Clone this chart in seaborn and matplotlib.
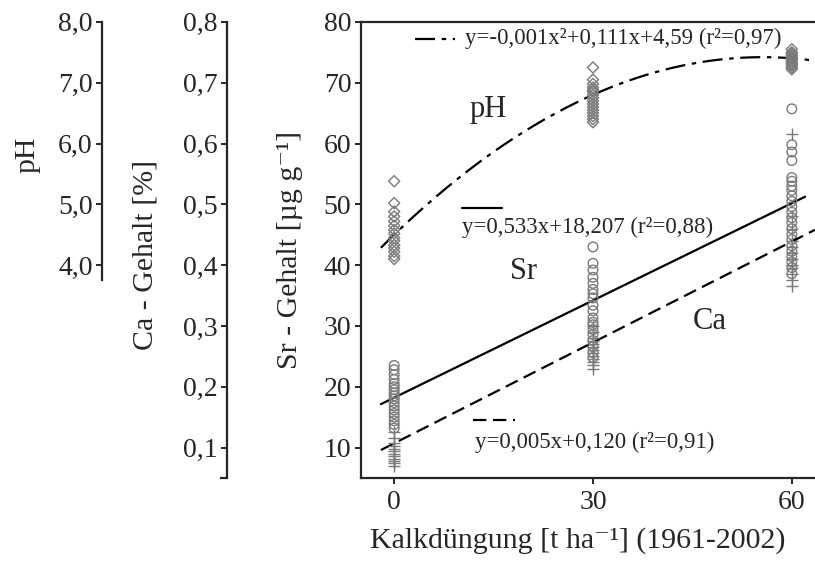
import numpy as np
import pandas as pd
import seaborn as sns
import matplotlib.pyplot as plt

# Kalkdüngung levels [t/ha]
lime = [0, 30, 60]

# pH per lime level
ph_0 = [5.38, 5.02, 4.88, 4.80, 4.72, 4.65, 4.58, 4.52, 4.45, 4.40, 4.33, 4.28, 4.22, 4.15, 4.10]
ph_30 = [7.25, 7.05, 6.98, 6.92, 6.88, 6.85, 6.80, 6.75, 6.70, 6.65, 6.60, 6.55, 6.50, 6.45, 6.40, 6.35]
ph_60 = [7.55, 7.50, 7.48, 7.45, 7.42, 7.40, 7.38, 7.35, 7.32, 7.30, 7.28, 7.25, 7.22]

# Sr content [µg/g]
sr_0 = [23.5, 22.8, 22.0, 21.2, 20.5, 20.0, 19.5, 19.0, 18.5, 18.0, 17.4, 16.8, 16.2,
        15.6, 15.0, 14.4, 13.8, 13.2]
sr_30 = [43.0, 40.3, 39.2, 38.0, 37.0, 36.0, 35.3, 34.6, 33.4, 32.5, 31.3, 30.6, 30.2,
         29.4, 28.6, 27.6, 26.6, 25.6, 24.8]
sr_60 = [65.7, 59.8, 58.6, 57.2, 54.4, 53.8, 53.0, 52.3, 51.4, 50.5, 49.6, 48.7, 47.8,
         47.0, 46.0, 45.0, 44.2, 43.2, 42.3, 41.4, 40.5, 39.6, 38.6]

# Ca content [%]
ca_0 = [0.125, 0.115, 0.108, 0.102, 0.098, 0.095, 0.090, 0.086, 0.082, 0.078, 0.074, 0.070]
ca_30 = [0.300, 0.290, 0.280, 0.275, 0.270, 0.265, 0.260, 0.255, 0.250, 0.245, 0.240, 0.235, 0.230]
ca_60 = [0.615, 0.480, 0.460, 0.440, 0.430, 0.420, 0.410, 0.400, 0.395, 0.385, 0.375, 0.365]

# fitted curves (as drawn)
ph_fit = [-0.000944, 0.105, 4.50]   # quadratic
sr_fit = [0.533, 18.207]            # linear
ca_fit = [0.00553, 0.107]           # linear
ph_eq = "y=-0,001x²+0,111x+4,59 (r²=0,97)"
sr_eq = "y=0,533x+18,207 (r²=0,88)"
ca_eq = "y=0,005x+0,120 (r²=0,91)"

# axis ticks
sr_ticks = [10, 20, 30, 40, 50, 60, 70, 80]
ca_ticks = [0.1, 0.2, 0.3, 0.4, 0.5, 0.6, 0.7, 0.8]
ca_labels = ["0,1", "0,2", "0,3", "0,4", "0,5", "0,6", "0,7", "0,8"]
ph_ticks = [4, 5, 6, 7, 8]
ph_labels = ["4,0", "5,0", "6,0", "7,0", "8,0"]


def long(groups, name):
    rows = []
    for x, vals in zip(lime, groups):
        rows += [(x, v) for v in vals]
    return pd.DataFrame(rows, columns=["Kalk", name])


df_ph = long([ph_0, ph_30, ph_60], "pH")
df_sr = long([sr_0, sr_30, sr_60], "Sr")
df_ca = long([ca_0, ca_30, ca_60], "Ca")

sns.set_style("ticks")
plt.rcParams["font.family"] = ["Liberation Serif", "DejaVu Serif"]
plt.rcParams["axes.linewidth"] = 1.6
plt.rcParams["xtick.major.width"] = 1.4
plt.rcParams["ytick.major.width"] = 1.4
plt.rcParams["xtick.major.size"] = 4
plt.rcParams["ytick.major.size"] = 4

fig = plt.figure(figsize=(8.15, 5.61), dpi=100)
ax = fig.add_axes([0.443, 0.148, 0.557, 0.813])
ax_ca = ax.twinx()
ax_ph = ax.twinx()

grey = "#7a7a7a"
sns.scatterplot(data=df_sr, x="Kalk", y="Sr", ax=ax, marker="o", s=48,
                facecolors="none", edgecolor=grey, linewidth=1.0, zorder=3)
sns.scatterplot(data=df_ca, x="Kalk", y="Ca", ax=ax_ca, marker="+", s=75,
                color=grey, linewidth=1.0, zorder=3)
sns.scatterplot(data=df_ph, x="Kalk", y="pH", ax=ax_ph, marker="D", s=32,
                facecolors="none", edgecolor=grey, linewidth=1.0, zorder=3)

xs = np.linspace(-2, 63.5, 200)
sns.lineplot(x=xs, y=np.polyval(ph_fit, xs), ax=ax_ph, color="black", lw=1.6,
             linestyle=(0, (9, 3, 2, 3)))
xl = np.array([-2, 62])
sns.lineplot(x=xl, y=np.polyval(sr_fit, xl), ax=ax, color="black", lw=1.6)
xc = np.array([-2, 63.5])
sns.lineplot(x=xc, y=np.polyval(ca_fit, xc), ax=ax_ca, color="black", lw=1.6,
             linestyle=(0, (6, 3)))

# scales: same visual grid for all three
ax.set_xlim(-5, 63.5)
ax.set_ylim(5, 80)
ax_ca.set_ylim(0.05, 0.80)
ax_ph.set_ylim(0.5, 8.0)

tick_fs = 20
lab_fs = 21.5
ax.set_xticks(lime)
ax.set_yticks(sr_ticks)
ax.tick_params(axis="both", labelsize=tick_fs, direction="out", pad=3)
ax.tick_params(axis="x", pad=5)
ax.spines["right"].set_visible(False)
ax.set_xlabel("Kalkdüngung [t ha⁻¹] (1961-2002)", fontsize=lab_fs)
ax.xaxis.set_label_coords(0.478, -0.108)
ax.set_ylabel("Sr - Gehalt [µg g⁻¹]", fontsize=lab_fs)
ax.yaxis.set_label_coords(-0.128, 0.5)

for a, pos in [(ax_ca, -0.295), (ax_ph, -0.570)]:
    a.patch.set_visible(False)
    for s in ["top", "right", "bottom"]:
        a.spines[s].set_visible(False)
    a.spines["left"].set_visible(True)
    a.spines["left"].set_position(("axes", pos))
    a.yaxis.set_ticks_position("left")
    a.yaxis.set_label_position("left")
    a.tick_params(axis="y", labelsize=tick_fs, direction="out", pad=3)

ax_ca.set_yticks(ca_ticks, ca_labels)
ax_ca.set_yticks([0.05], minor=True)
ax_ca.tick_params(axis="y", which="minor", length=5, width=1.6, direction="out")
ax_ca.set_ylabel("Ca - Gehalt [%]", fontsize=lab_fs)
ax_ca.yaxis.set_label_coords(-0.447, 0.49)

ax_ph.set_yticks(ph_ticks, ph_labels)
ax_ph.spines["left"].set_bounds(3.75, 8.0)
ax_ph.set_ylabel("pH", fontsize=lab_fs)
ax_ph.yaxis.set_label_coords(-0.707, 0.708)

# key samples and equations
tf = ax.transAxes
eq_fs = 16.5
ax.plot([0.119, 0.207], [0.963, 0.963], transform=tf, color="black", lw=1.6,
        linestyle=(0, (9, 3, 2, 3)))
ax.text(0.229, 0.963, ph_eq, transform=tf, fontsize=eq_fs, va="center", ha="left")
ax.plot([0.222, 0.311], [0.592, 0.592], transform=tf, color="black", lw=1.6)
ax.text(0.222, 0.550, sr_eq, transform=tf, fontsize=eq_fs, va="center", ha="left")
ax.plot([0.247, 0.339], [0.127, 0.127], transform=tf, color="black", lw=1.6,
        linestyle=(0, (6, 3)))
ax.text(0.251, 0.077, ca_eq, transform=tf, fontsize=eq_fs, va="center", ha="left")

ax.text(0.280, 0.807, "pH", transform=tf, fontsize=22, ha="center", va="center")
ax.text(0.357, 0.452, "Sr", transform=tf, fontsize=22, ha="center", va="center")
ax.text(0.769, 0.342, "Ca", transform=tf, fontsize=22, ha="center", va="center")

fig.savefig("out.png", dpi=100)
